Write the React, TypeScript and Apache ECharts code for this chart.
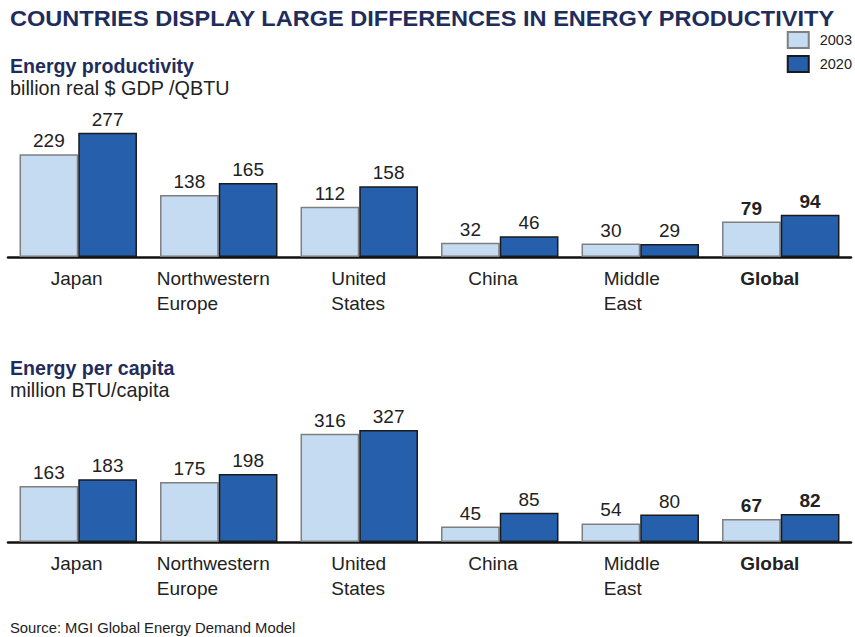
import React, { useEffect, useRef } from "react";
import * as echarts from "echarts";

const titleText = "COUNTRIES DISPLAY LARGE DIFFERENCES IN ENERGY PRODUCTIVITY";
const categories = ["Japan", "Northwestern\nEurope", "United\nStates", "China", "Middle\nEast", "Global"];
const seriesNames = ["2003", "2020"];
const productivity2003 = [229, 138, 112, 32, 30, 79];
const productivity2020 = [277, 165, 158, 46, 29, 94];
const perCapita2003 = [163, 175, 316, 45, 54, 67];
const perCapita2020 = [183, 198, 327, 85, 80, 82];
const boldCategory = "Global";
// horizontal nudge (px, negative = left) of each category label, as in the original layout
const labelNudge = [-1, -5, 0, -6, -8, -10];

const FONT = "'Liberation Sans', Arial, Helvetica, sans-serif";
const NAVY = "#1F2D5C";
const LIGHT = "#C5DBF1";
const DARK = "#2660AD";
const TXT = "#222222";

function measure(text: string, font: string): number {
  const c = document.createElement("canvas");
  const ctx = c.getContext("2d");
  if (!ctx) return text.length * 10;
  ctx.font = font;
  return ctx.measureText(text).width;
}

export default function App() {
  const ref = useRef<HTMLDivElement>(null);
  useEffect(() => {
    document.body.style.margin = "0";
    if (!ref.current) return;
    const chart = echarts.init(ref.current, null, { renderer: "svg" });

    const titleW = measure(titleText, `bold 21.5px ${FONT}`);
    const titleScale = 825 / titleW;

    const rich: Record<string, any> = {};
    categories.forEach((c, i) => {
      const bold = c === boldCategory;
      const w = Math.max(...c.split("\n").map((l) => measure(l, `${bold ? "bold " : ""}19px ${FONT}`)));
      const n = labelNudge[i];
      rich["c" + i] = {
        width: Math.ceil(w) + 1,
        align: "left",
        fontSize: 19,
        lineHeight: 25,
        fontFamily: FONT,
        color: TXT,
        fontWeight: bold ? "bold" : "normal",
        padding: [0, n < 0 ? -2 * n : 0, 0, n > 0 ? 2 * n : 0],
      };
    });

    const xAxisBase = (gridIndex: number) => ({
      type: "category",
      gridIndex,
      data: categories,
      axisTick: { show: false },
      axisLine: { show: true, lineStyle: { color: "#111", width: 2.5 } },
      axisLabel: {
        interval: 0,
        margin: 9,
        formatter: (v: string, i: number) =>
          v.split("\n").map((l) => `{c${i}|${l}}`).join("\n"),
        rich,
      },
    });
    const yAxisBase = (gridIndex: number) => ({
      type: "value",
      gridIndex,
      min: 0,
      max: 350,
      show: false,
      splitLine: { show: false },
    });

    const label = {
      show: true,
      position: "top",
      distance: 4,
      fontSize: 19,
      fontFamily: FONT,
      color: TXT,
      formatter: (p: any) => (categories[p.dataIndex] === boldCategory ? `{b|${p.value}}` : `${p.value}`),
      rich: { b: { fontWeight: "bold", fontSize: 19, fontFamily: FONT, color: TXT } },
    };
    const mk = (name: string, data: number[], idx: number, light: boolean) => ({
      type: "bar",
      name,
      xAxisIndex: idx,
      yAxisIndex: idx,
      data,
      barGap: "0%",
      barCategoryGap: "16.4%",
      itemStyle: {
        color: light ? LIGHT : DARK,
        borderColor: light ? "#7F7F7F" : "#1A1A1A",
        borderWidth: 1.5,
      },
      label,
    });

    const text = (t: string, x: number, y: number, size: number, bold: boolean, fill: string, extra: any = {}) => ({
      type: "text",
      x,
      y,
      ...extra,
      style: {
        text: t,
        fill,
        font: `${bold ? "bold " : ""}${size}px ${FONT}`,
        verticalAlign: "middle",
        align: "left",
      },
    });

    chart.setOption({
      animation: false,
      backgroundColor: "#ffffff",
      legend: {
        orient: "vertical",
        right: 3,
        top: 31,
        padding: 0,
        itemWidth: 21,
        itemHeight: 16,
        itemGap: 6,
        icon: "rect",
        data: seriesNames,
        textStyle: { fontSize: 14.5, fontFamily: FONT, color: TXT, padding: [0, 0, 0, 6] },
      },
      grid: [
        { left: 8, width: 843, top: 100, height: 157 },
        { left: 8, width: 843, top: 422, height: 120 },
      ],
      xAxis: [xAxisBase(0), xAxisBase(1)],
      yAxis: [yAxisBase(0), yAxisBase(1)],
      series: [
        mk(seriesNames[0], productivity2003, 0, true),
        mk(seriesNames[1], productivity2020, 0, false),
        mk(seriesNames[0], perCapita2003, 1, true),
        mk(seriesNames[1], perCapita2020, 1, false),
      ],
      graphic: [
        text(titleText, 10, 18.5, 21.5, true, NAVY, { scaleX: titleScale }),
        text("Energy productivity", 10, 66, 19.6, true, NAVY),
        text("billion real $ GDP /QBTU", 10, 88, 19.8, false, TXT),
        text("Energy per capita", 10, 368, 19.6, true, NAVY),
        text("million BTU/capita", 10, 390, 19.8, false, TXT),
        text("Source: MGI Global Energy Demand Model", 10, 628, 14.8, false, TXT),
      ],
    });
    return () => chart.dispose();
  }, []);
  return <div ref={ref} style={{ width: 855, height: 637 }} />;
}
